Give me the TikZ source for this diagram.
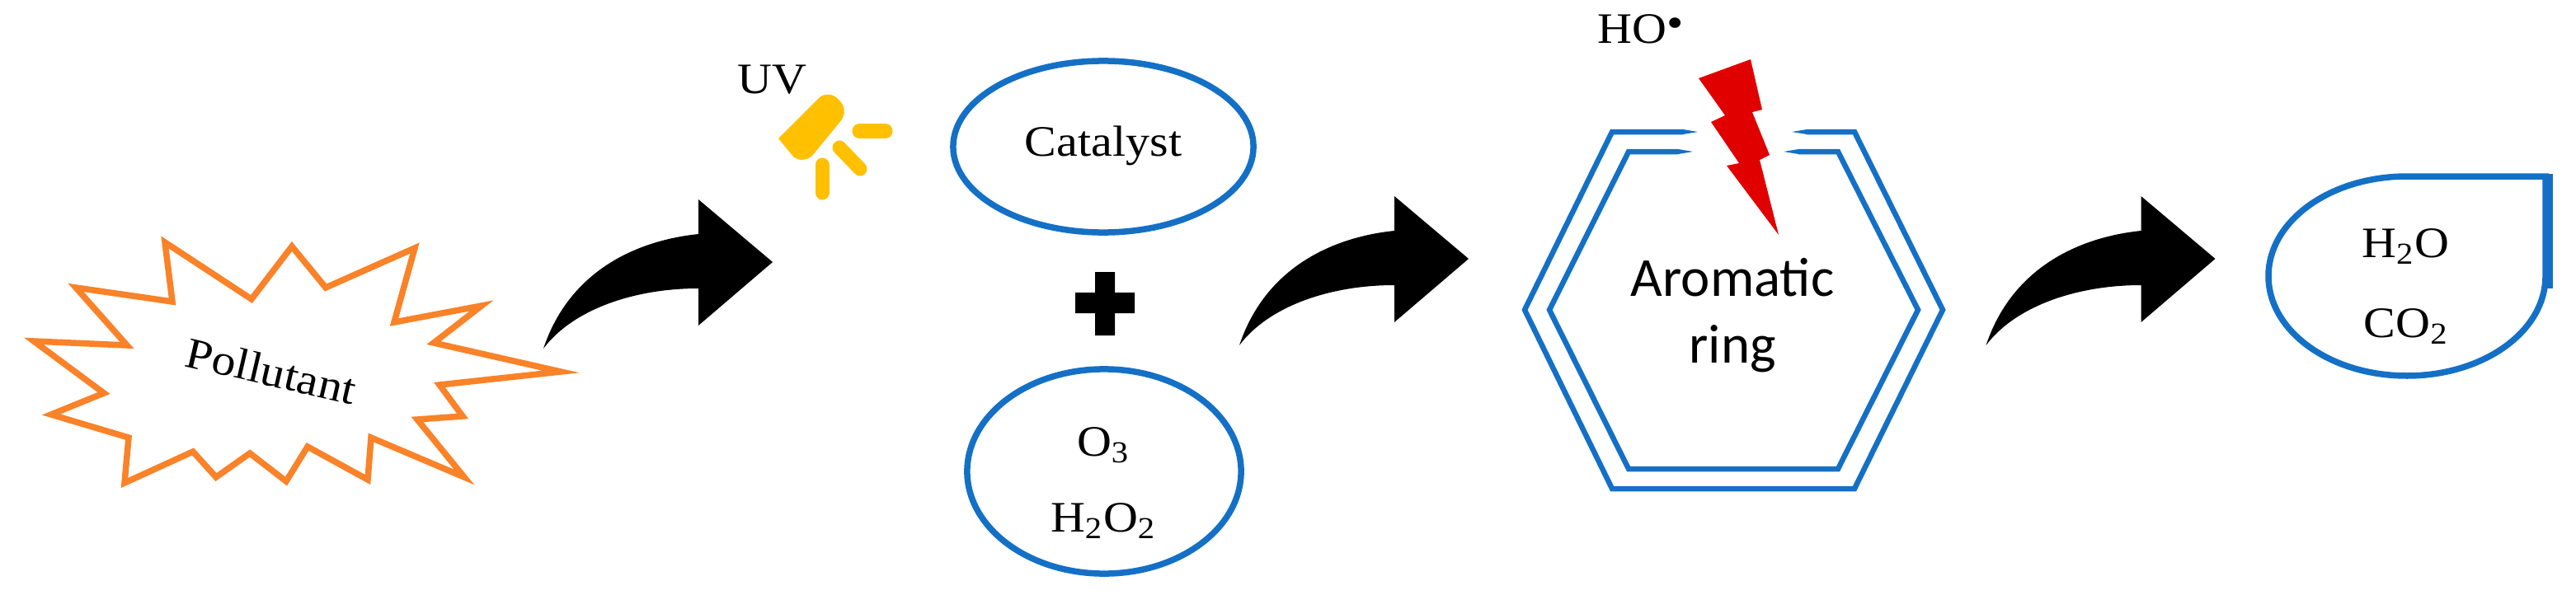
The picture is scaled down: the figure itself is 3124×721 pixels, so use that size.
\documentclass[tikz,border=0pt]{standalone}
\usepackage{fontspec}
\usetikzlibrary{shapes.geometric}
\newfontfamily\labelfont[FakeStretch=1.1]{Liberation Serif}
\newfontfamily\ringfont{Carlito}
\definecolor{cburst}{RGB}{250,130,40}
\definecolor{cshell}{RGB}{20,112,198}
\definecolor{clamp}{RGB}{255,192,0}
\definecolor{cbolt}{RGB}{224,0,0}

\begin{document}
\begin{tikzpicture}[x=0.01cm,y=-0.01cm,
   lab/.style={font=\labelfont\fontsize{15}{18}\selectfont,inner sep=0pt},
   shell/.style={draw=cshell,line width=0.075cm},
   ball/.style={shell,ellipse,inner sep=0pt}]
 \useasboundingbox (0,0) rectangle (3124,721);
 % ---- pollutant burst ----
 \draw[cburst,line width=0.075cm,miter limit=12]
   (200,294)--(305,363)--(354,299)--(395,349)--(503,301)--(478,391)--(584,371)--(526,416)
   --(680,451)--(533,467)--(561,505)--(506,509)--(563,579)--(450,531)--(446,582)--(373,542)
   --(347,584)--(303,550)--(262,579)--(234,548)--(151,586)--(156,531)--(62,503)--(126,477)
   --(41,414)--(154,419)--(92,349)--(209,366)--cycle;
 \node[lab,rotate=-13] (pollutant) at (329,450){Pollutant};
 % ---- block arrows, given by their tails ----
 \foreach \xt/\yt in {659/423,1503/419,2408.5/419}
   \fill[black,shift={(\xt,\yt)}] (0,0) .. controls (31,-93) and (111,-131) .. (188,-139)
     --(188,-181)--(278,-105)--(188,-28)--(188,-73) .. controls (111,-73) and (36,-48) .. (0,0)--cycle;
 % ---- uv lamp ----
 \node[lab] (uv) at (936,97){UV};
 \fill[clamp] (944,168) [rounded corners=0.16cm] --(1004,108)--(1030,134)--(976,200) [sharp corners] --(962,190)--cycle;
 \foreach \xa/\ya/\xb/\yb in {1042/159/1074/159, 1018/179/1043/205, 997/200/997/234}
   \draw[clamp,line width=0.17cm,line cap=round] (\xa,\ya)--(\xb,\yb);
 % ---- reagents ----
 \node[ball,minimum width=3.64cm,minimum height=2.08cm] (catalyst) at (1338,178){};
 \node[lab] (catalysttxt) at (1338,177){Catalyst};
 \fill[black] (1328,330)--(1352,330)--(1352,355)--(1376,355)--(1376,380)--(1352,380)--(1352,407)
   --(1328,407)--(1328,380)--(1304,380)--(1304,355)--(1328,355)--cycle;
 \node[ball,minimum width=3.32cm,minimum height=2.48cm] (oxidant) at (1339,572){};
 \node[lab] (ozone) at (1338,540){O\textsubscript{3}};
 \node[lab] (peroxide) at (1338,632){H\textsubscript{2}O\textsubscript{2}};
 % ---- aromatic ring, open at the top ----
 \draw[shell,line width=0.065cm] (2041,160)--(1955,160)--(1849,376)--(1955,593)--(2249,593)--(2356,376)--(2249,160)--(2191,160);
 \draw[shell,line width=0.065cm] (2035,184)--(1975,184)--(1879,376)--(1975,569)--(2229,569)--(2326,376)--(2229,184)--(2181,184);
 \foreach \xa/\xb/\ym in {2041/2059/160,2035/2053/184,2191/2173/160,2181/2163/184}
   \fill[cshell] (\xa,\ym-3)--(\xb,\ym)--(\xa,\ym+3)--cycle;
 \node[align=center,inner sep=0pt,font=\ringfont\fontsize{19}{23}\selectfont] (ring) at (2101,383){Aromatic\\ring};
 % ---- radical and bolt ----
 \node[lab] (radical) at (1990,35){HO\raisebox{0.13em}{\textbullet}};
 \fill[cbolt] (2060,95)--(2123,72)--(2137,133)--(2125,136)--(2146,188)--(2134,194)--(2157,285)
   --(2094,201)--(2109,198)--(2075,148)--(2092,140)--cycle;
 % ---- products ----
 \draw[shell] (3087,214)--(2919,214) .. controls (2826,214) and (2751,268) .. (2751,335)
   .. controls (2751,402) and (2826,456) .. (2919,456)
   .. controls (3012,456) and (3087,402) .. (3087,335)--cycle;
 \draw[cshell,line width=0.11cm] (3090,211)--(3090,350);
 \node[lab] (water) at (2917,299){H\textsubscript{2}O};
 \node[lab] (carbon) at (2918,396){CO\textsubscript{2}};
\end{tikzpicture}
\end{document}
